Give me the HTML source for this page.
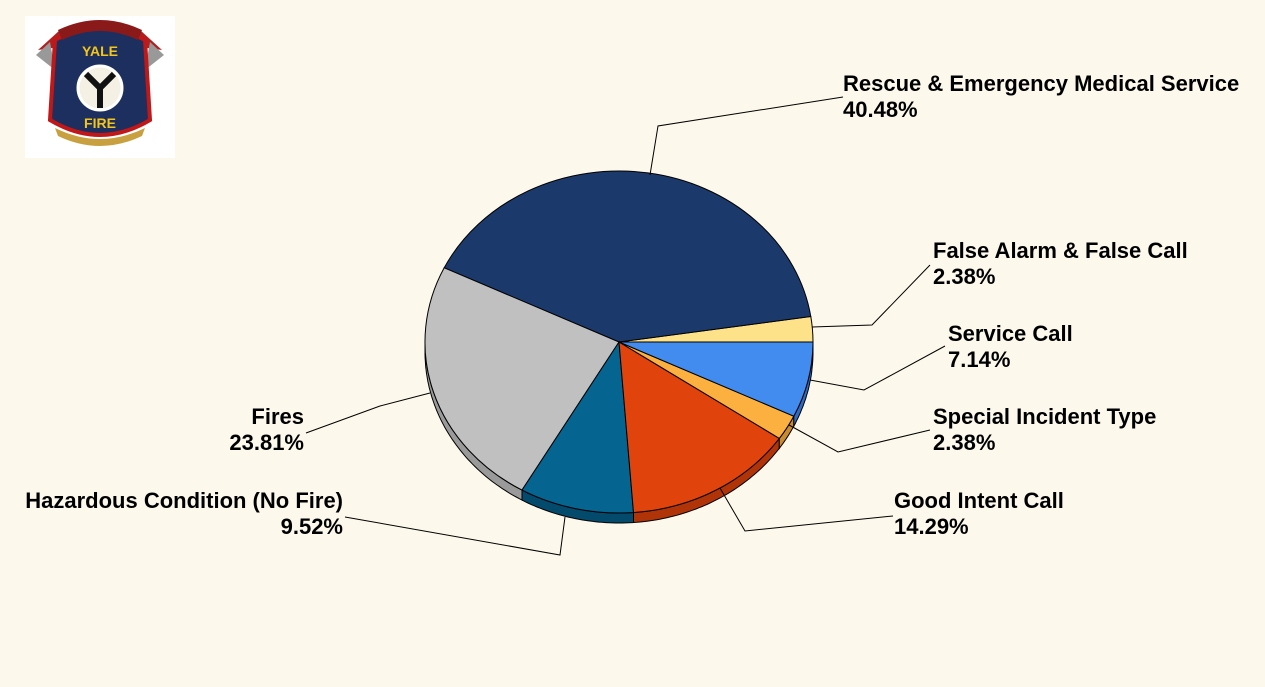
<!DOCTYPE html>
<html><head><meta charset="utf-8"><style>
html,body{margin:0;padding:0;background:#fdf8ec;}
svg{display:block;}
text{font-family:"Liberation Sans",sans-serif;font-weight:bold;font-size:22px;fill:#000;}
</style></head><body>
<svg id="s" width="1265" height="687" viewBox="0 0 1265 687" xmlns="http://www.w3.org/2000/svg">
<rect width="1265" height="687" fill="#fdf8ec"/>
<rect x="25" y="16" width="150" height="142" fill="#fff"/>
<g>
<path d="M38 50 L60 30 L75 45 Z" fill="#b02020"/><path d="M162 50 L140 30 L125 45 Z" fill="#b02020"/>
<path d="M36 55 L50 42 L55 70 Z" fill="#999"/><path d="M164 55 L150 42 L145 70 Z" fill="#999"/>
<path d="M55 40 Q100 15 145 40 L150 120 Q100 150 50 120 Z" fill="#1c2f5e" stroke="#c01818" stroke-width="4"/>
<path d="M58 30 Q100 10 142 30 L138 40 Q100 22 62 40 Z" fill="#8a1a1a"/>
<text x="100" y="56" text-anchor="middle" style="font-size:14px;fill:#f5c518">YALE</text>
<circle cx="100" cy="88" r="22" fill="#f4f0e4" stroke="#fff" stroke-width="3"/>
<path d="M86 74 L100 88 L114 74 M100 88 L100 108" stroke="#111" stroke-width="6" fill="none"/>
<text x="100" y="128" text-anchor="middle" style="font-size:14px;fill:#f5c518">FIRE</text>
<path d="M55 128 Q100 150 145 128 L142 136 Q100 156 58 136 Z" fill="#c8a040"/>
</g>
<g id="pie"></g>
<g stroke="#000" stroke-width="1" fill="none">
<polyline points="650,175 658,126 843,97"/>
<polyline points="812,327 872,325 930,265"/>
<polyline points="810,380 864,390 945,346"/>
<polyline points="789,425 838,452 930,430"/>
<polyline points="720,488 745,531 893,516"/>
<polyline points="565,517 560,555 345,517"/>
<polyline points="430,393 380,406 306,433"/>
</g>
<text x="843" y="91">Rescue &amp; Emergency Medical Service</text>
<text x="843" y="117">40.48%</text>
<text x="933" y="258">False Alarm &amp; False Call</text>
<text x="933" y="284">2.38%</text>
<text x="948" y="341">Service Call</text>
<text x="948" y="367">7.14%</text>
<text x="933" y="424">Special Incident Type</text>
<text x="933" y="450">2.38%</text>
<text x="894" y="508">Good Intent Call</text>
<text x="894" y="534">14.29%</text>
<text x="343" y="508" text-anchor="end">Hazardous Condition (No Fire)</text>
<text x="343" y="534" text-anchor="end">9.52%</text>
<text x="304" y="424" text-anchor="end">Fires</text>
<text x="304" y="450" text-anchor="end">23.81%</text>
</svg>
<script>
(function(){
var cx=619,cy=342,rx=194,ry=171,d=10;
var sl=[[0,8.57,"#fde28a","#c9b06a"],[8.57,154.3,"#1b3a6b","#122850"],[154.3,240,"#c0c0c0","#9a9a9a"],
[240,274.3,"#066491","#044a6c"],[274.3,325.7,"#e0440c","#b03408"],[325.7,334.3,"#fbb040","#c98a30"],[334.3,360,"#428bef","#2f6ac0"]];
function P(a,dy){var r=a*Math.PI/180;return [cx+rx*Math.cos(r),cy-ry*Math.sin(r)+(dy||0)];}
var g=document.getElementById("pie"),h="";
sl.forEach(function(s){
 var a0=Math.max(s[0],180),a1=s[1];if(a1<=180)return;
 var pts=[];for(var a=a0;a<=a1+0.001;a+=1){pts.push(P(Math.min(a,a1)));}
 var p2=P(a1);pts.push(p2);
 var str="M"+pts.map(function(p){return p[0].toFixed(1)+","+p[1].toFixed(1);}).join(" L");
 for(var i=pts.length-1;i>=0;i--)str+=" L"+pts[i][0].toFixed(1)+","+(pts[i][1]+d).toFixed(1);
 str+="Z";
 h+='<path d="'+str+'" fill="'+s[3]+'" stroke="#000" stroke-width="1"/>';
});
sl.forEach(function(s){
 var p0=P(s[0]),p1=P(s[1]),large=(s[1]-s[0])>180?1:0;
 h+='<path d="M'+cx+','+cy+' L'+p0[0].toFixed(1)+','+p0[1].toFixed(1)+' A'+rx+','+ry+' 0 '+large+' 0 '+p1[0].toFixed(1)+','+p1[1].toFixed(1)+' Z" fill="'+s[2]+'" stroke="#000" stroke-width="1"/>';
});
g.innerHTML=h;
})();
</script>
</body></html>
